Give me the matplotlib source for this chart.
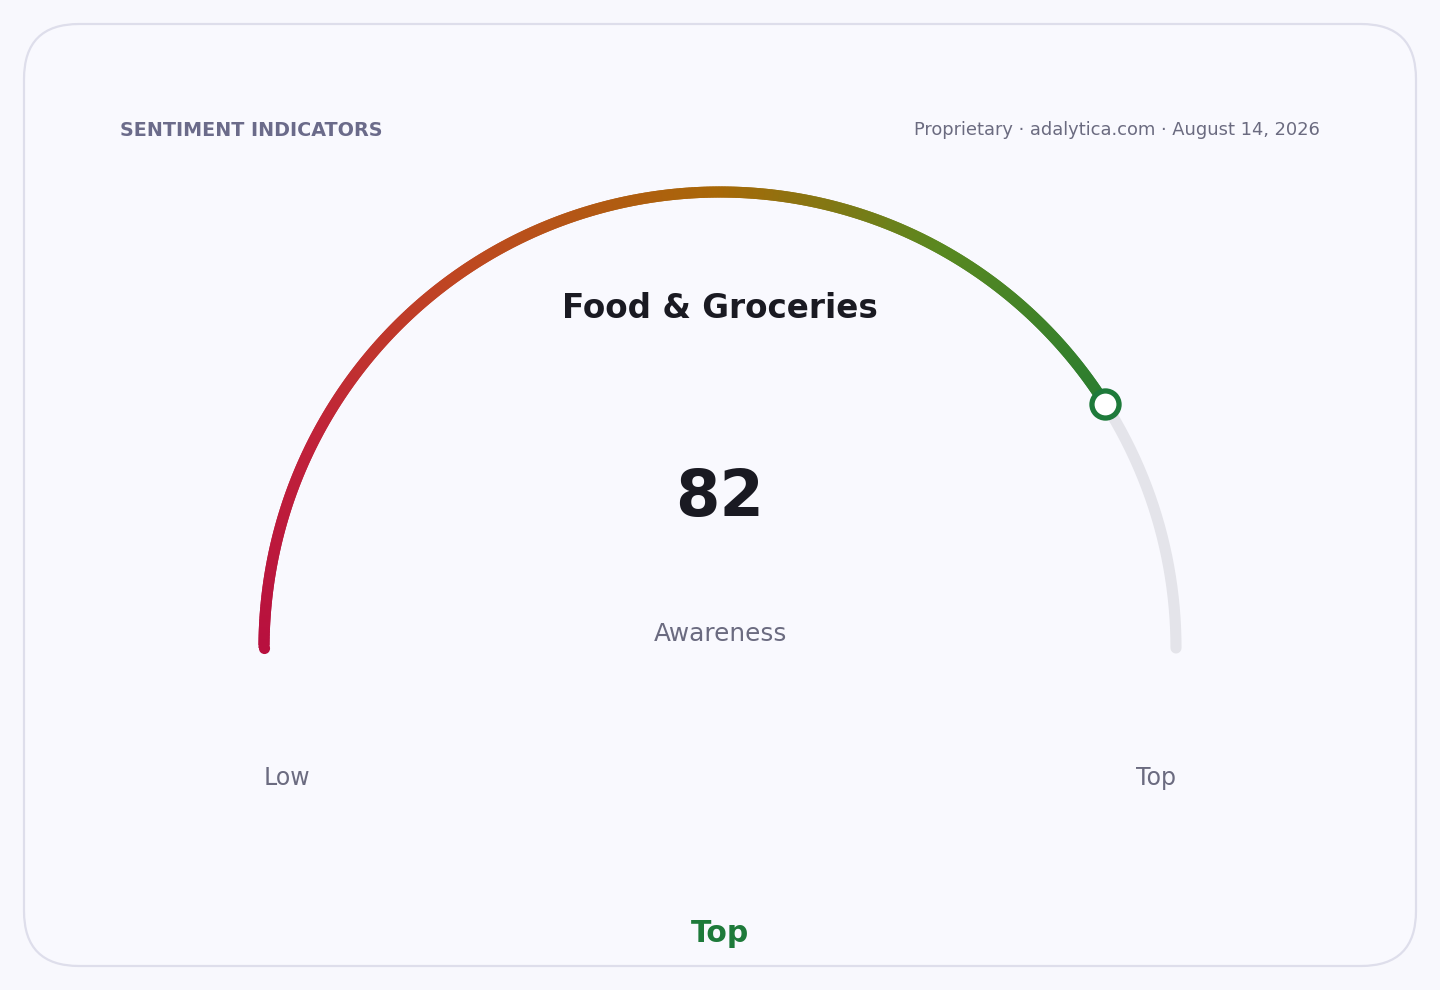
import numpy as np
import matplotlib
matplotlib.use("Agg")
import matplotlib.pyplot as plt
from matplotlib.collections import LineCollection
from matplotlib.colors import LinearSegmentedColormap
from matplotlib.patches import FancyBboxPatch

# ---- data ----
category = "Food & Groceries"
metric = "Awareness"
value = 82
vmin, vmax = 0, 100
range_labels = ["Low", "Top"]
verdict = "Top"
header_left = "SENTIMENT INDICATORS"
header_right = "Proprietary \u00b7 adalytica.com \u00b7 August 14, 2026"

W, H = 1440, 990
fig = plt.figure(figsize=(W / 100, H / 100), dpi=100)
fig.patch.set_facecolor("#f8f8fd")
ax = fig.add_axes([0, 0, 1, 1])
ax.set_xlim(0, W)
ax.set_ylim(H, 0)
ax.axis("off")

card = FancyBboxPatch((24, 24), 1392, 942, boxstyle="round,pad=0,rounding_size=55",
                      facecolor="#f9f9fe", edgecolor="#dedeeb", linewidth=1.6)
ax.add_patch(card)

cx, cy, R = 720, 648, 456
lw = 8.0

def pt(v):
    a = np.pi * (1 - (v - vmin) / (vmax - vmin))
    return cx + R * np.cos(a), cy - R * np.sin(a)

# background track (remaining part)
vs = np.linspace(value, vmax, 200)
xs, ys = pt(vs)
ax.plot(xs, ys, color="#e4e4ea", lw=lw, solid_capstyle="round", zorder=2)

cmap = LinearSegmentedColormap.from_list(
    "g", [(0.0, "#b8103e"), (0.15, "#c0223a"), (0.3, "#bf4622"), (0.5, "#a86808"),
          (0.66, "#5a8820"), (0.82, "#2a7d30"), (1.0, "#1e7a3a")])
n = 400
vs = np.linspace(vmin, value, n + 1)
xs, ys = pt(vs)
segs = [np.column_stack([xs[i:i + 3], ys[i:i + 3]]) for i in range(n - 1)]
cols = cmap((vs[1:n] - vmin) / (vmax - vmin))
lc = LineCollection(segs, colors=cols, linewidths=lw, capstyle="butt",
                    joinstyle="round", zorder=3)
ax.add_collection(lc)
sx, sy = pt(vmin)
ax.plot([sx], [sy], "o", ms=lw, color=cmap(0.0), mec="none", zorder=3)

mx, my = pt(value)
ax.plot([mx], [my], "o", ms=19.5, mfc="white", mec="#1e7a3a", mew=3.8, zorder=5)

ax.text(120, 130, header_left, fontsize=13.8, fontweight="bold", color="#6b6b8a",
        ha="left", va="center")
ax.text(1320, 130, header_right, fontsize=12.85, color="#6b6b80", ha="right", va="center")

ax.text(cx, 309, category, fontsize=23.5, fontweight="bold", color="#1a1a22",
        ha="center", va="center")
ax.text(cx, 498, f"{value}", fontsize=46, fontweight="bold", color="#1a1a22",
        ha="center", va="center")
ax.text(cx, 634, metric, fontsize=17.8, color="#6b6b80", ha="center", va="center")

lx, _ = pt(vmin)
rx, _ = pt(vmax)
ax.text(lx, 778, range_labels[0], fontsize=17, color="#6b6b80", ha="left", va="center")
ax.text(rx, 778, range_labels[1], fontsize=17, color="#6b6b80", ha="right", va="center")

ax.text(cx, 934, verdict, fontsize=21.5, fontweight="bold", color="#1e7a3a",
        ha="center", va="center")

fig.savefig("out.png", dpi=100, facecolor=fig.get_facecolor())
